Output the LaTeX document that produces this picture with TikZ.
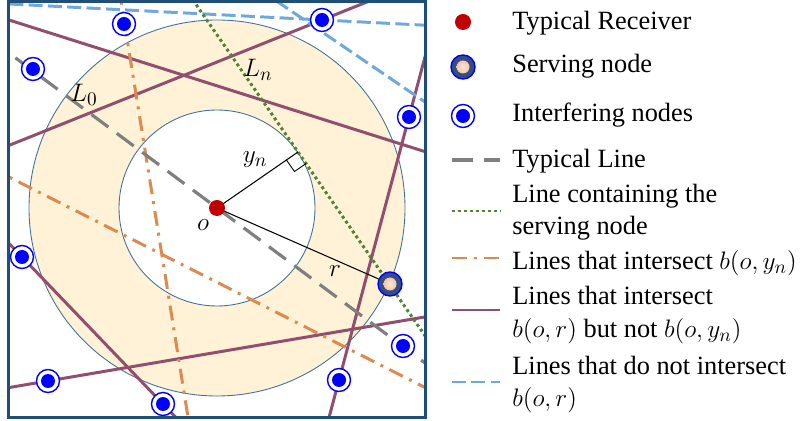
\documentclass[tikz,border=0pt]{standalone}
\usepackage{fontspec}
\setmainfont{Liberation Serif}
\usepackage{xcolor}
\usetikzlibrary{positioning, calc}

\definecolor{framecol}{RGB}{31,78,121}
\definecolor{ringfill}{RGB}{255,242,214}
\definecolor{ringline}{RGB}{65,113,156}
\definecolor{rxred}{RGB}{192,0,0}
\definecolor{servdark}{RGB}{52,78,130}
\definecolor{peach}{RGB}{238,165,125}
\definecolor{peachlt}{RGB}{253,232,218}
\definecolor{typgray}{RGB}{127,127,127}
\definecolor{srvgreen}{RGB}{84,130,53}
\definecolor{inorange}{RGB}{221,138,80}
\definecolor{midpurple}{RGB}{145,78,110}
\definecolor{outblue}{RGB}{111,168,220}

\begin{document}
\begin{tikzpicture}[
    x=0.02cm, y=-0.02cm,
    every node/.style={font=\fontsize{15}{18}\selectfont},
    rx/.style={circle, fill=rxred, minimum size=0.32cm, inner sep=0pt},
    intf/.style={circle, draw=blue, line width=0.8pt, fill=white, minimum size=0.46cm, inner sep=0pt,
        path picture={\fill[blue] (path picture bounding box.center) circle (0.14cm);}},
    serv/.style={circle, draw=blue, line width=0.8pt, fill=servdark, minimum size=0.48cm, inner sep=0pt,
        path picture={\shade[inner color=peachlt, outer color=peach] (path picture bounding box.center) circle (0.13cm);}},
    typ/.style={typgray, line width=1.8pt, dash pattern=on 12pt off 6pt},
    lnserv/.style={srvgreen, line width=1.7pt, dash pattern=on 1.7pt off 1.7pt},
    lnin/.style={inorange, line width=1.7pt, dash pattern=on 8.5pt off 4pt on 1.7pt off 4pt},
    lnmid/.style={midpurple, line width=1.7pt},
    lnout/.style={outblue, line width=1.7pt, dash pattern=on 8pt off 3pt},
    lbl/.style={inner sep=1pt},
    leg/.style={anchor=base west, inner sep=0pt},
]
\useasboundingbox (0,0) rectangle (807,421);

% === FIELD ===
\coordinate (o) at (217,208);
\coordinate (foot) at (298,152);
\begin{scope}
\clip (8.5,1.5) rectangle (425.5,417.5);
\fill[ringfill, even odd rule] (o) circle[radius=188] (o) circle[radius=98];
\draw[ringline, line width=0.5pt] (o) circle[radius=188] (o) circle[radius=98];

% lines that intersect b(o,r) only
\draw[lnmid] (-10,14) -- (440,156.4);
\draw[lnmid] (-10,153) -- (440,-27.3);
\draw[lnmid] (442.8,-10) -- (325.7,430);
\draw[lnmid] (-10,223.6) -- (190,432.2);
\draw[lnmid] (-10,390.8) -- (440,314.4);

% lines that intersect b(o,y_n)
\draw[lnin] (119.2,-10) -- (190.1,430);
\draw[lnin] (-10,167.4) -- (440,395.1);

% lines outside b(o,r)
\draw[lnout] (-10,3) -- (440,26);
\draw[lnout] (260.3,-10) -- (440,112.2);

% typical line and serving line
\draw[typ] (-10,38.9) -- (440,374.1);
\draw[lnserv] (186,-10) -- (466,395);
\end{scope}
\draw[framecol, line width=1.7pt] (8.5,1.5) rectangle (425.5,417.5);

% distances
\node[serv] (sn) at (390,284) {};
\draw[black, line width=0.6pt] (o) -- (foot);
\draw[black, line width=0.6pt] (o) -- (sn);
\coordinate (ra) at ($(foot)!8pt!(o)$);
\coordinate (rb) at ($(foot)!8pt!(sn)$);
\draw[black, line width=0.5pt] (ra) -- ($(ra)+(rb)-(foot)$) -- (rb);

% nodes
\node[rx] (rcv) at (o) {};
\node[intf] (i1) at (124,24) {};
\node[intf] (i2) at (33,69) {};
\node[intf] (i3) at (322,20) {};
\node[intf] (i4) at (409,117) {};
\node[intf] (i5) at (22,257) {};
\node[intf] (i6) at (48,381) {};
\node[intf] (i7) at (163,404) {};
\node[intf] (i8) at (339,380) {};
\node[intf] (i9) at (403,346) {};

% labels
\node[lbl] (lzero) at (84,95) {$L_0$};
\node[lbl] (ln) at (258,70) {$L_n$};
\node[lbl] (yn) at (255,160) {$y_n$};
\node[lbl] (olbl) at (203,225) {$o$};
\node[lbl] (rlbl) at (335,271) {$r$};

% === LEGEND ===
\node[rx] (k1) at (463,22) {};
\node[leg] (t1) at (512,30) {Typical Receiver};
\node[serv] (k2) at (463,67) {};
\node[leg] (t2) at (512,73) {Serving node};
\node[intf] (k3) at (463,116) {};
\node[leg] (t3) at (512,122) {Interfering nodes};
\coordinate (k4a) at (452,160); \coordinate (k4b) at (500,160);
\draw[typ] (k4a) -- (k4b);
\node[leg] (t4) at (512,168) {Typical Line};
\coordinate (k5a) at (452,211); \coordinate (k5b) at (500,211);
\draw[lnserv] (k5a) -- (k5b);
\node[leg] (t5) at (512,203) {Line containing the};
\node[leg] (t5b) at ([yshift=-0.64cm]t5.base west) {serving node};
\coordinate (k6a) at (452,258); \coordinate (k6b) at (500,258);
\draw[lnin] (k6a) -- (k6b);
\node[leg] (t6) at (512,270) {Lines that intersect $b(o,y_n)$};
\coordinate (k7a) at (452,310); \coordinate (k7b) at (500,310);
\draw[lnmid] (k7a) -- (k7b);
\node[leg] (t7) at (512,305) {Lines that intersect};
\node[leg] (t7b) at ([yshift=-0.66cm]t7.base west) {$b(o,r)$ but not $b(o,y_n)$};
\coordinate (k8a) at (452,382); \coordinate (k8b) at (500,382);
\draw[lnout] (k8a) -- (k8b);
\node[leg] (t8) at (512,375) {Lines that do not intersect};
\node[leg] (t8b) at ([yshift=-0.64cm]t8.base west) {$b(o,r)$};

\end{tikzpicture}
\end{document}
